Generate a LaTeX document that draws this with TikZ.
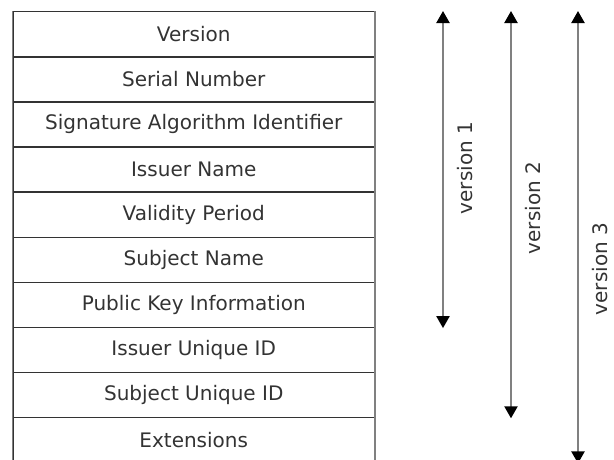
\documentclass[tikz,border=0pt]{standalone}
\usepackage{fontspec}
\setmainfont{DejaVu Sans}
\usepackage{tikz}
\usetikzlibrary{arrows.meta}
\definecolor{CertLineColor}{RGB}{51,51,51}
\definecolor{CertArrowColor}{RGB}{128,128,128}

\begin{document}
\begin{tikzpicture}[x=1pt,y=-1pt,font=\fontsize{20}{24}\selectfont,text=CertLineColor,
   field/.style={rectangle,draw=CertLineColor,line width=1.4pt,minimum width=361.5pt,minimum height=45.1pt,inner sep=0pt,anchor=north},
   span/.style={CertArrowColor,line width=2.2pt,{Triangle[width=13pt,length=12pt,color=black]}-{Triangle[width=13pt,length=12pt,color=black]}},
   spanlbl/.style={rotate=90,anchor=center}]
\useasboundingbox (0,0) rectangle (614,459);
\clip (0,0) rectangle (614,459);
\foreach \i/\t in %
{1/Version,2/Serial Number,3/Signature Algorithm Identifier,4/Issuer Name,5/Validity Period,%
6/Subject Name,7/Public Key Information,8/Issuer Unique ID,9/Subject Unique ID,10/Extensions} {
   \node[field] (r\i) at (193.75,{11+45.1*(\i-1)}) {\t};
}
% outer side lines are a bit lighter
\draw[CertArrowColor,line width=1.6pt] (r1.north west) -- (r10.south west);
\draw[CertArrowColor,line width=1.6pt] (r1.north east) -- (r10.south east);
\coordinate (v1) at (443,11);
\coordinate (v2) at (511,11);
\coordinate (v3) at (578,11);
\draw[span] (v1) -- (v1 |- r7.south);
\draw[span] (v2) -- (v2 |- r9.south);
\draw[span] (v3) -- (v3 |- r10.south);
\node[spanlbl] (l1) at (465,168) {version 1};
\node[spanlbl] (l2) at (533,208) {version 2};
\node[spanlbl] (l3) at (600,269) {version 3};
\end{tikzpicture}
\end{document}
